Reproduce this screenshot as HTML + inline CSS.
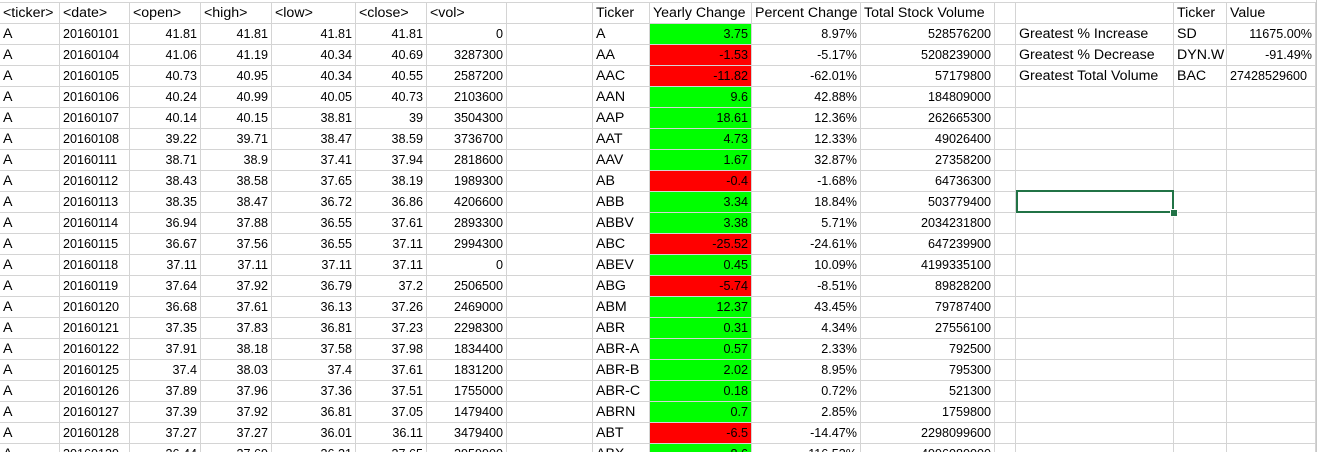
<!DOCTYPE html>
<html><head><meta charset="utf-8">
<style>
html,body{margin:0;padding:0;background:#fff;width:1326px;height:452px;overflow:hidden}
#sheet{position:absolute;left:0;top:0;width:1316px;height:452px;overflow:hidden;font-family:"Liberation Sans",sans-serif;font-size:14.2px;color:#000}
.c{position:absolute;box-sizing:border-box;border-right:1px solid #d4d4d4;border-bottom:1px solid #d4d4d4;height:21px;line-height:20px;padding:0 3px;white-space:nowrap;overflow:hidden}
.r{text-align:right}
.n{font-size:12.6px}
#sb{position:absolute;left:1316px;top:0;width:10px;height:452px;background:#fff;border-left:1px solid #c8c8c8}
#sel{position:absolute;left:1016px;top:190px;width:158px;height:23px;box-sizing:border-box;border:2px solid #217346}
#handle{position:absolute;left:1170px;top:209px;width:6px;height:6px;background:#217346;border:1px solid #fff}
</style></head><body>
<div id="sheet"></div>
<div id="sb"></div>
<div id="sel"></div>
<div id="handle"></div>
<script>
const colX=[0,60,130,201,272,356,427,507,593,650,752,861,995,1016,1174,1227,1316];
const headers=["<ticker>","<date>","<open>","<high>","<low>","<close>","<vol>","","Ticker","Yearly Change","Percent Change","Total Stock Volume","","","Ticker","Value"];
const dates=["20160101","20160104","20160105","20160106","20160107","20160108","20160111","20160112","20160113","20160114","20160115","20160118","20160119","20160120","20160121","20160122","20160125","20160126","20160127","20160128","20160129"];
const opens=["41.81","41.06","40.73","40.24","40.14","39.22","38.71","38.43","38.35","36.94","36.67","37.11","37.64","36.68","37.35","37.91","37.4","37.89","37.39","37.27","36.44"];
const highs=["41.81","41.19","40.95","40.99","40.15","39.71","38.9","38.58","38.47","37.88","37.56","37.11","37.92","37.61","37.83","38.18","38.03","37.96","37.92","37.27","37.69"];
const lows=["41.81","40.34","40.34","40.05","38.81","38.47","37.41","37.65","36.72","36.55","36.55","37.11","36.79","36.13","36.81","37.58","37.4","37.36","36.81","36.01","36.21"];
const closes=["41.81","40.69","40.55","40.73","39","38.59","37.94","38.19","36.86","37.61","37.11","37.11","37.2","37.26","37.23","37.98","37.61","37.51","37.05","36.11","37.65"];
const vols=["0","3287300","2587200","2103600","3504300","3736700","2818600","1989300","4206600","2893300","2994300","0","2506500","2469000","2298300","1834400","1831200","1755000","1479400","3479400","2959900"];
const tickers=["A","AA","AAC","AAN","AAP","AAT","AAV","AB","ABB","ABBV","ABC","ABEV","ABG","ABM","ABR","ABR-A","ABR-B","ABR-C","ABRN","ABT","ABX"];
const changes=["3.75","-1.53","-11.82","9.6","18.61","4.73","1.67","-0.4","3.34","3.38","-25.52","0.45","-5.74","12.37","0.31","0.57","2.02","0.18","0.7","-6.5","8.6"];
const pcts=["8.97%","-5.17%","-62.01%","42.88%","12.36%","12.33%","32.87%","-1.68%","18.84%","5.71%","-24.61%","10.09%","-8.51%","43.45%","4.34%","2.33%","8.95%","0.72%","2.85%","-14.47%","116.53%"];
const totals=["528576200","5208239000","57179800","184809000","262665300","49026400","27358200","64736300","503779400","2034231800","647239900","4199335100","89828200","79787400","27556100","792500","795300","521300","1759800","2298099600","4996080000"];
const sumLabels=["Greatest % Increase","Greatest % Decrease","Greatest Total Volume"];
const sumTickers=["SD","DYN.W","BAC"];
const sumValues=["11675.00%","-91.49%","27428529600"];
const sheet=document.getElementById('sheet');
const rowTop=k=>3+21*k;
function cell(col,row,text,right,bg,name,num){
  const d=document.createElement('div');
  d.className='c'+(right?' r':'')+(num?' n':'');
  d.style.left=colX[col]+'px';d.style.width=(colX[col+1]-colX[col])+'px';
  d.style.top=rowTop(row)+'px';
  if(bg)d.style.background=bg;
  d.textContent=text;
  
  
  sheet.appendChild(d);
}
// top border line
const tl=document.createElement('div');
tl.style.cssText='position:absolute;left:0;top:2px;width:1316px;height:1px;background:#d4d4d4';


sheet.appendChild(tl);
for(let r=0;r<22;r++){
  for(let c=0;c<16;c++){
    let t='',right=false,bg=null,name='empty-cell',num=false;
    if(r===0){t=headers[c];name='header-cell';}
    else{
      const i=r-1;
      switch(c){
        case 0:t='A';name='ticker-cell';break;
        case 1:t=dates[i];name='date-cell';num=true;break;
        case 2:t=opens[i];right=true;num=true;name='open-cell';break;
        case 3:t=highs[i];right=true;num=true;name='high-cell';break;
        case 4:t=lows[i];right=true;num=true;name='low-cell';break;
        case 5:t=closes[i];right=true;num=true;name='close-cell';break;
        case 6:t=vols[i];right=true;num=true;name='vol-cell';break;
        case 8:t=tickers[i];name='summary-ticker-cell';break;
        case 9:t=changes[i];right=true;num=true;bg=parseFloat(changes[i])<0?'#ff0000':'#00ff00';name='yearly-change-cell';break;
        case 10:t=pcts[i];right=true;num=true;name='percent-change-cell';break;
        case 11:t=totals[i];right=true;num=true;name='total-volume-cell';break;
        case 13:if(i<3){t=sumLabels[i];name='greatest-label-cell';}break;
        case 14:if(i<3){t=sumTickers[i];name='greatest-ticker-cell';}break;
        case 15:if(i<3){t=sumValues[i];right=i<2;num=true;name='greatest-value-cell';}break;
      }
    }
    cell(c,r,t,right,bg,name,num);
  }
}
</script>
</body></html>
